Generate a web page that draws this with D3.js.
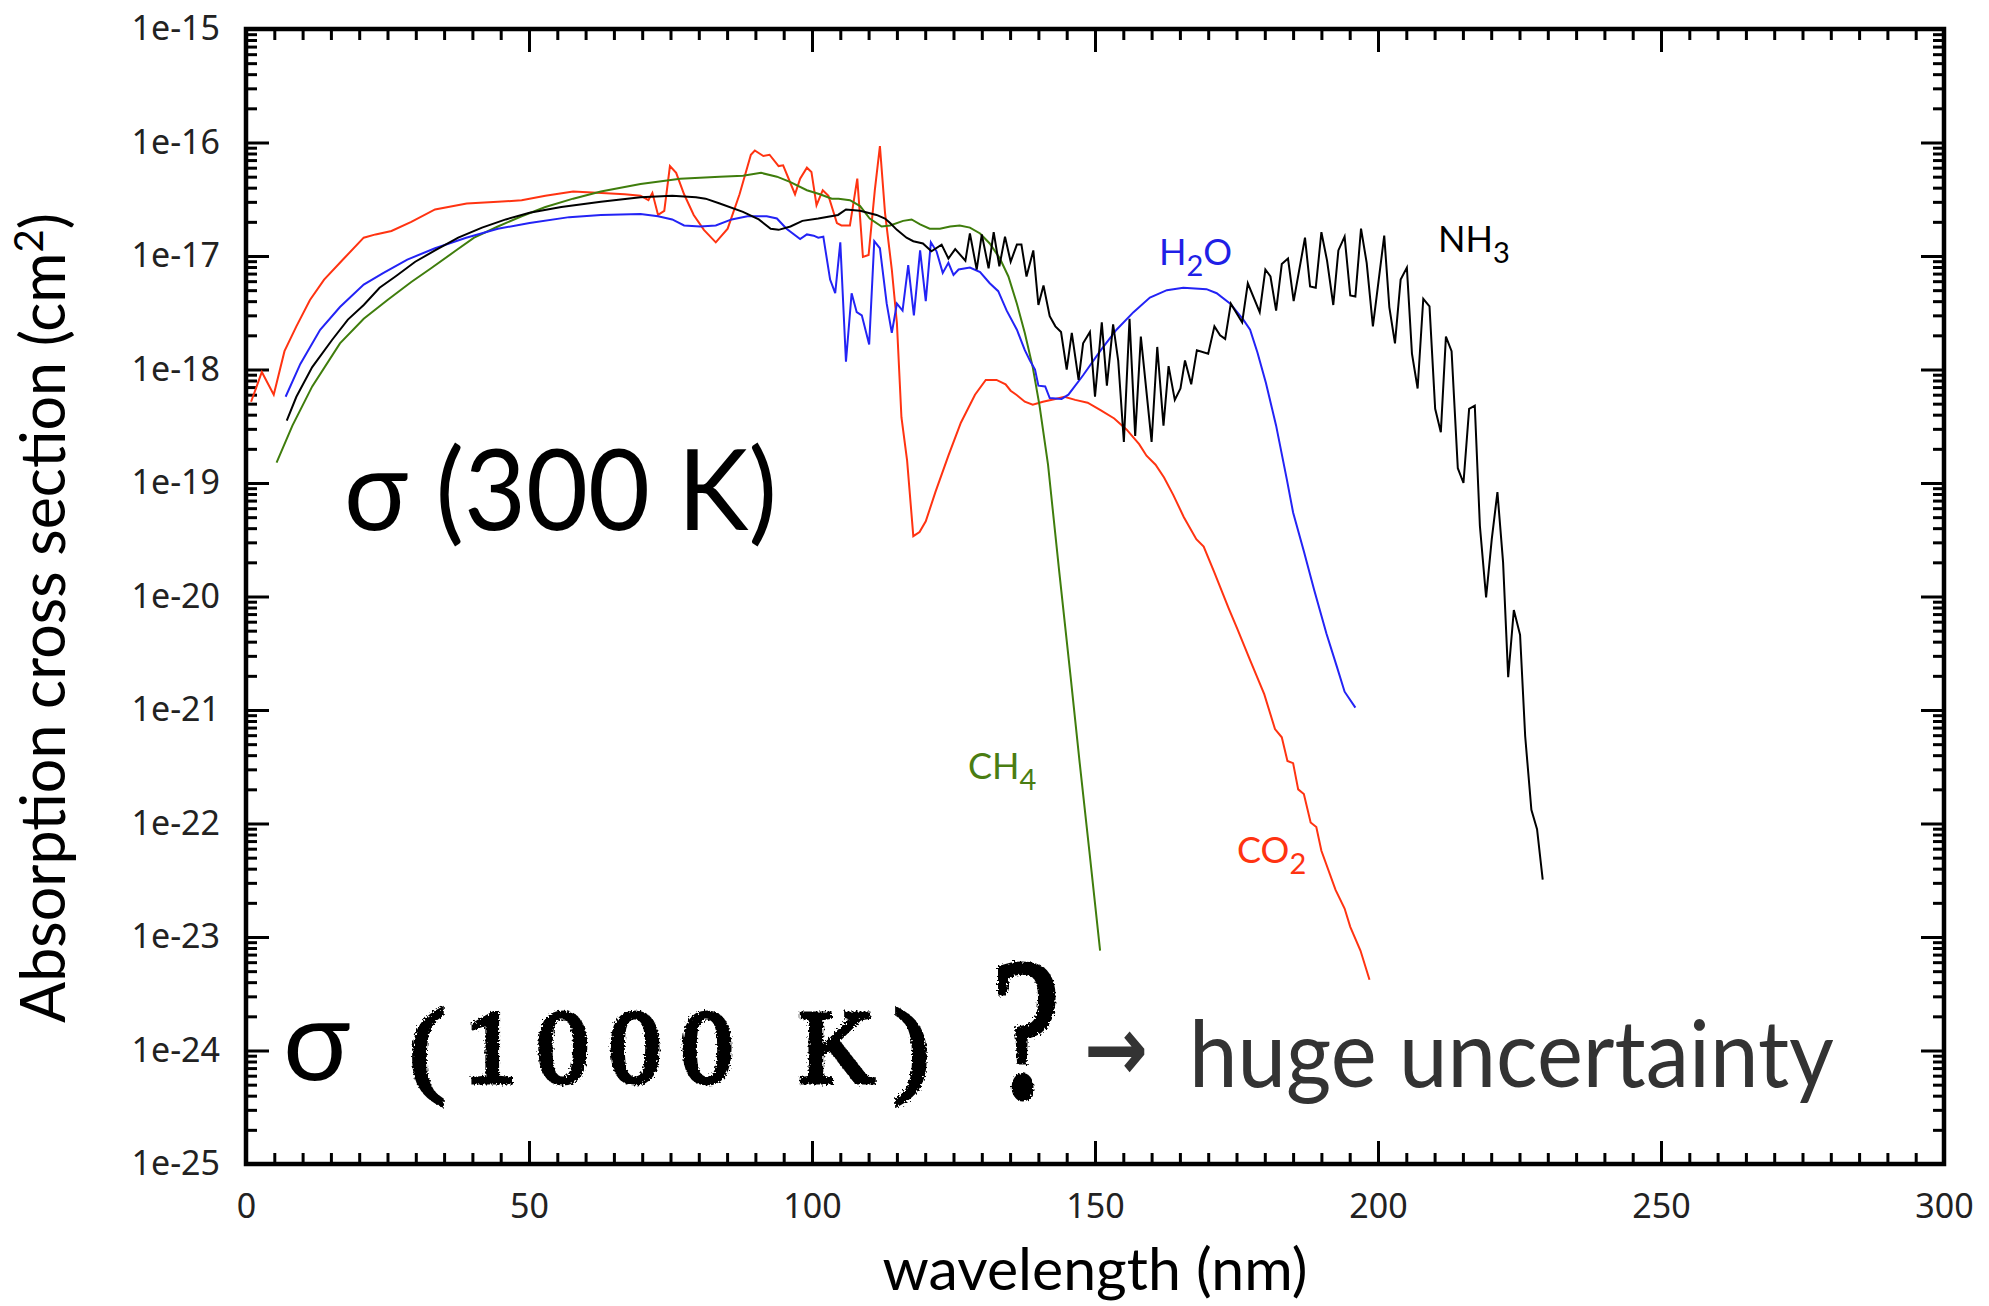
<!DOCTYPE html>
<html>
<head>
<meta charset="utf-8">
<script src="https://cdn.jsdelivr.net/npm/d3@7"></script>
<style>
  body { margin: 0; background: #fff; }
  svg { display: block; }
</style>
</head>
<body>
<div id="chart"></div>
<script>
// [wavelength (nm), cross section (cm^2)]
const co2 = [[0.9,5.2e-19],[2.8,9.5e-19],[4.9,6.0e-19],[6.8,1.45e-18],[8.9,2.4e-18],[11.3,4.1e-18],[13.8,6.2e-18],[17.3,9.5e-18],[20.8,1.45e-17],[22.9,1.55e-17],[25.7,1.66e-17],[29.2,2.0e-17],[33.4,2.57e-17],[39.0,2.9e-17],[44.5,3.0e-17],[48.7,3.1e-17],[52.9,3.4e-17],[57.8,3.7e-17],[62.0,3.6e-17],[66.9,3.5e-17],[69.7,3.4e-17],[71.1,3.1e-17],[71.8,3.6e-17],[72.8,2.3e-17],[73.9,2.5e-17],[74.9,6.2e-17],[76.0,5.4e-17],[77.4,3.5e-17],[79.1,2.3e-17],[80.9,1.7e-17],[83.0,1.32e-17],[85.1,1.74e-17],[87.2,3.5e-17],[89.2,7.8e-17],[89.9,8.5e-17],[91.4,7.6e-17],[92.5,7.8e-17],[94.1,6.2e-17],[94.9,6.3e-17],[97.0,3.5e-17],[97.9,4.8e-17],[99.1,6.0e-17],[99.9,5.5e-17],[100.8,2.8e-17],[101.9,3.8e-17],[102.9,3.4e-17],[104.4,1.95e-17],[105.2,1.86e-17],[106.7,1.86e-17],[108.0,4.8e-17],[109.0,9.8e-18],[110.0,1.02e-17],[111.1,3.8e-17],[112.0,9.3e-17],[112.9,2.4e-17],[114.1,7.6e-18],[115.0,2.57e-18],[115.8,3.8e-19],[116.8,1.58e-19],[117.9,3.4e-20],[119.0,3.7e-20],[120.1,4.6e-20],[121.8,8.3e-20],[124.1,1.74e-19],[126.3,3.4e-19],[128.8,6.0e-19],[130.7,8.1e-19],[132.6,8.1e-19],[134.2,7.4e-19],[135.1,6.5e-19],[136.1,6.0e-19],[137.6,5.2e-19],[139.0,4.9e-19],[140.8,5.2e-19],[143.0,5.5e-19],[144.6,5.75e-19],[146.5,5.4e-19],[148.7,5.1e-19],[150.9,4.4e-19],[153.4,3.7e-19],[155.6,2.95e-19],[157.8,2.2e-19],[159.1,1.74e-19],[160.7,1.45e-19],[162.2,1.12e-19],[163.8,7.9e-20],[165.7,5.0e-20],[167.9,3.2e-20],[169.2,2.75e-20],[171.1,1.62e-20],[173.6,7.9e-21],[175.2,5.1e-21],[177.4,2.75e-21],[179.9,1.38e-21],[181.8,6.8e-22],[183.0,5.75e-22],[184.0,3.55e-22],[185.0,3.4e-22],[185.9,2.0e-22],[186.9,1.82e-22],[188.1,1.02e-22],[189.1,9.3e-23],[190.0,5.75e-23],[192.5,2.6e-23],[194.1,1.78e-23],[195.1,1.23e-23],[196.9,7.6e-24],[198.5,4.2e-24]];

const h2o = [[7.0,5.75e-19],[9.6,1.12e-18],[13.1,2.24e-18],[16.6,3.55e-18],[20.8,5.6e-18],[24.3,7.1e-18],[28.5,9.3e-18],[33.4,1.17e-17],[38.9,1.45e-17],[44.5,1.74e-17],[50.1,1.95e-17],[57.1,2.2e-17],[62.7,2.3e-17],[69.7,2.35e-17],[72.8,2.24e-17],[75.3,2.1e-17],[77.4,1.86e-17],[80.2,1.82e-17],[83.0,1.86e-17],[85.8,2.1e-17],[88.6,2.24e-17],[92.0,2.24e-17],[93.8,2.14e-17],[95.5,1.74e-17],[97.9,1.41e-17],[99.1,1.55e-17],[100.3,1.51e-17],[101.1,1.45e-17],[102.0,1.48e-17],[103.2,6.2e-18],[104.1,4.7e-18],[105.0,1.32e-17],[106.0,1.17e-18],[107.0,4.7e-18],[107.9,3.2e-18],[108.8,3.0e-18],[110.1,1.66e-18],[111.0,1.35e-17],[112.0,1.17e-17],[113.2,3.8e-18],[114.1,2.1e-18],[115.0,3.8e-18],[116.0,3.3e-18],[117.0,8.3e-18],[118.0,3.0e-18],[119.1,1.12e-17],[120.1,4.0e-18],[121.0,1.32e-17],[122.0,1.1e-17],[123.1,7.1e-18],[124.1,8.7e-18],[125.0,6.8e-18],[125.9,7.6e-18],[127.9,7.9e-18],[129.7,7.2e-18],[131.4,5.75e-18],[132.9,4.9e-18],[134.4,3.3e-18],[136.2,2.24e-18],[137.6,1.48e-18],[138.5,1.2e-18],[139.4,1.0e-18],[140.0,7.2e-19],[141.2,7.1e-19],[142.0,5.6e-19],[144.1,5.5e-19],[145.3,6.0e-19],[147.9,8.9e-19],[150.9,1.45e-18],[153.8,2.24e-18],[156.8,3.2e-18],[159.7,4.3e-18],[162.7,5.0e-18],[165.6,5.25e-18],[169.7,5.1e-18],[171.5,4.7e-18],[173.9,3.8e-18],[176.2,2.75e-18],[177.4,2.24e-18],[178.7,1.41e-18],[180.2,7.6e-19],[182.0,3.2e-19],[183.9,1.07e-19],[185.0,5.5e-20],[186.9,2.5e-20],[188.7,1.15e-20],[190.9,4.7e-21],[192.8,2.35e-21],[194.1,1.45e-21],[196.0,1.05e-21]];

const ch4 = [[5.4,1.51e-19],[8.2,3.2e-19],[11.7,7.1e-19],[16.6,1.7e-18],[20.8,2.8e-18],[25.0,4.1e-18],[29.2,5.9e-18],[32.7,7.8e-18],[36.9,1.1e-17],[40.3,1.45e-17],[44.5,1.82e-17],[48.7,2.24e-17],[52.9,2.7e-17],[57.8,3.2e-17],[62.7,3.7e-17],[69.7,4.3e-17],[76.7,4.8e-17],[83.7,5.0e-17],[87.8,5.1e-17],[91.0,5.4e-17],[93.8,5.0e-17],[96.1,4.5e-17],[99.1,3.8e-17],[101.4,3.5e-17],[103.5,3.2e-17],[104.7,3.2e-17],[106.7,3.1e-17],[108.5,2.75e-17],[110.2,2.14e-17],[112.3,1.82e-17],[113.8,1.86e-17],[116.1,2.04e-17],[117.6,2.1e-17],[119.1,1.9e-17],[120.8,1.74e-17],[122.6,1.74e-17],[124.4,1.82e-17],[126.1,1.86e-17],[127.9,1.78e-17],[129.7,1.58e-17],[131.4,1.29e-17],[133.2,9.5e-18],[134.7,6.6e-18],[136.2,3.8e-18],[137.6,2.1e-18],[139.0,1.05e-18],[140.2,4.8e-19],[141.7,1.45e-19],[143.7,1.62e-20],[145.7,1.95e-21],[147.3,3.4e-22],[149.0,5.75e-23],[150.9,7.6e-24]];

const nh3 = [[7.2,3.55e-19],[8.9,5.75e-19],[11.7,1.05e-18],[15.2,1.82e-18],[18.0,2.75e-18],[20.8,3.7e-18],[23.6,5.25e-18],[26.4,6.6e-18],[29.9,8.9e-18],[33.4,1.12e-17],[37.5,1.45e-17],[41.7,1.78e-17],[45.9,2.1e-17],[50.1,2.4e-17],[55.7,2.7e-17],[62.7,3.0e-17],[69.7,3.3e-17],[75.3,3.4e-17],[79.5,3.3e-17],[81.2,3.2e-17],[83.7,2.9e-17],[87.8,2.45e-17],[90.6,2.1e-17],[92.7,1.74e-17],[94.1,1.7e-17],[96.2,1.82e-17],[98.3,2.04e-17],[101.1,2.14e-17],[104.6,2.3e-17],[106.0,2.57e-17],[108.5,2.5e-17],[111.4,2.3e-17],[112.9,2.14e-17],[113.8,1.95e-17],[115.0,1.7e-17],[116.7,1.45e-17],[117.9,1.35e-17],[119.6,1.29e-17],[121.1,1.1e-17],[122.9,1.26e-17],[124.1,9.5e-18],[125.3,1.15e-17],[127.1,9.1e-18],[127.9,1.58e-17],[129.1,7.6e-18],[130.0,1.55e-17],[131.2,7.8e-18],[132.1,1.62e-17],[133.1,8.1e-18],[134.1,1.48e-17],[135.1,8.9e-18],[136.2,1.26e-17],[137.0,1.26e-17],[137.9,6.6e-18],[139.1,1.12e-17],[140.0,3.7e-18],[140.9,5.5e-18],[142.0,2.95e-18],[143.0,2.4e-18],[144.0,2.14e-18],[145.0,1.0e-18],[145.9,2.1e-18],[147.1,8.1e-19],[147.9,1.7e-18],[149.1,2.14e-18],[150.0,5.75e-19],[151.2,2.6e-18],[152.1,7.2e-19],[153.2,2.5e-18],[154.1,1.2e-18],[155.1,2.3e-19],[156.1,2.8e-18],[157.1,2.6e-19],[158.1,1.95e-18],[160.0,2.3e-19],[161.0,1.58e-18],[162.1,3.2e-19],[163.0,1.07e-18],[164.1,5.4e-19],[165.1,6.8e-19],[165.9,1.2e-18],[167.0,7.4e-19],[168.0,1.48e-18],[170.0,1.38e-18],[171.1,2.4e-18],[172.1,2.0e-18],[173.0,1.86e-18],[174.0,3.8e-18],[176.0,2.6e-18],[177.0,5.75e-18],[179.1,3.2e-18],[180.1,7.6e-18],[181.0,6.6e-18],[182.0,3.3e-18],[183.0,8.5e-18],[184.1,9.5e-18],[185.1,4.0e-18],[187.1,1.45e-17],[188.0,5.4e-18],[189.0,5.25e-18],[190.0,1.62e-17],[191.0,9.1e-18],[192.1,3.7e-18],[193.0,1.12e-17],[194.1,1.48e-17],[195.1,4.5e-18],[196.0,4.4e-18],[197.0,1.74e-17],[198.0,8.7e-18],[199.1,2.4e-18],[201.1,1.51e-17],[202.0,3.55e-18],[203.0,1.7e-18],[204.0,6.2e-18],[205.1,7.9e-18],[206.0,1.38e-18],[207.0,6.8e-19],[208.0,4.2e-18],[209.1,3.6e-18],[210.1,4.5e-19],[211.1,2.8e-19],[212.0,1.95e-18],[213.0,1.45e-18],[214.1,1.35e-19],[215.1,1.0e-19],[216.1,4.5e-19],[217.1,4.8e-19],[218.0,4.2e-20],[219.1,9.8e-21],[220.1,3.2e-20],[221.1,8.3e-20],[222.1,2.0e-20],[223.0,1.95e-21],[224.0,7.6e-21],[225.1,4.6e-21],[226.0,5.9e-22],[227.1,1.32e-22],[228.1,8.9e-23],[229.1,3.2e-23]];

const xMajor = [0, 50, 100, 150, 200, 250, 300];
const yExponents = [-25, -24, -23, -22, -21, -20, -19, -18, -17, -16, -15];

const width = 1989, height = 1306;
const plot = {left: 246, right: 1944, top: 29, bottom: 1164};

const x = d3.scaleLinear().domain([0, 300]).range([plot.left, plot.right]);
const y = d3.scaleLog().domain([1e-25, 1e-15]).range([plot.bottom, plot.top]);

const svg = d3.select('#chart').append('svg')
    .attr('width', width)
    .attr('height', height);

svg.append('rect').attr('width', width).attr('height', height).attr('fill', '#fff');

// rough look for the hand-stamped text
const filter = svg.append('defs').append('filter').attr('id', 'rough');
filter.append('feTurbulence').attr('type', 'fractalNoise')
    .attr('baseFrequency', 0.5).attr('numOctaves', 2).attr('result', 'noise');
filter.append('feDisplacementMap').attr('in', 'SourceGraphic').attr('in2', 'noise')
    .attr('scale', 7);

// tick values
const yMajor = yExponents.map(e => +('1e' + e));
let yMinor = [];
yExponents.slice(0, -1).forEach(e => {
    for (let k = 2; k <= 9; k++) yMinor.push(+(k + 'e' + e));
});
const xMinor = d3.range(0, 301, 5).filter(v => v % 50 !== 0);

const labelFont = '"Noto Sans", "Open Sans", sans-serif';
const bigFont = 'Lato, "Noto Sans", sans-serif';
const stampFont = '"Liberation Serif", "DejaVu Serif", serif';

function drawTicks(axis, pos, withLabels) {
    let g = svg.append('g').attr('transform', pos).call(axis);
    g.select('.domain').remove();
    g.selectAll('.tick line').attr('stroke', '#000').attr('stroke-width', 3);
    g.selectAll('.tick text')
        .attr('fill', '#222')
        .style('font-family', labelFont)
        .style('font-size', '34px');
    if (!withLabels) g.selectAll('.tick text').remove();
    return g;
}

const fmtY = d => '1e' + Math.round(Math.log10(d));

// bottom / top
drawTicks(d3.axisBottom(x).tickValues(xMajor).tickSize(-23).tickPadding(30), `translate(0,${plot.bottom})`, true);
drawTicks(d3.axisBottom(x).tickValues(xMinor).tickSize(-11), `translate(0,${plot.bottom})`, false);
drawTicks(d3.axisTop(x).tickValues(xMajor).tickSize(-23), `translate(0,${plot.top})`, false);
drawTicks(d3.axisTop(x).tickValues(xMinor).tickSize(-11), `translate(0,${plot.top})`, false);

// left / right
drawTicks(d3.axisLeft(y).tickValues(yMajor).tickFormat(fmtY).tickSize(-23).tickPadding(26), `translate(${plot.left},0)`, true);
drawTicks(d3.axisLeft(y).tickValues(yMinor).tickSize(-11), `translate(${plot.left},0)`, false);
drawTicks(d3.axisRight(y).tickValues(yMajor).tickSize(-23), `translate(${plot.right},0)`, false);
drawTicks(d3.axisRight(y).tickValues(yMinor).tickSize(-11), `translate(${plot.right},0)`, false);

// curves
const line = d3.line().x(d => x(d[0])).y(d => y(d[1]));
const series = [
    {data: co2, color: '#ff3311'},
    {data: ch4, color: '#3f7d0c'},
    {data: h2o, color: '#2323f5'},
    {data: nh3, color: '#000000'}
];
svg.append('g').selectAll('path')
    .data(series)
    .enter()
    .append('path')
    .attr('d', d => line(d.data))
    .attr('fill', 'none')
    .attr('stroke', d => d.color)
    .attr('stroke-width', 2)
    .attr('stroke-linejoin', 'miter');

// frame
svg.append('rect')
    .attr('x', plot.left).attr('y', plot.top)
    .attr('width', plot.right - plot.left)
    .attr('height', plot.bottom - plot.top)
    .attr('fill', 'none')
    .attr('stroke', '#000')
    .attr('stroke-width', 4.5);

// curve labels
function molecule(txt, sub, tail, px, py, color) {
    let t = svg.append('text')
        .attr('x', px).attr('y', py)
        .attr('fill', color)
        .style('font-family', bigFont)
        .style('font-size', '36px');
    t.append('tspan').text(txt);
    t.append('tspan').attr('dy', 11).style('font-size', '29px').text(sub);
    if (tail) t.append('tspan').attr('dy', -11).text(tail);
}
molecule('H', '2', 'O', 1159, 265, '#1f1fe6');
molecule('NH', '3', '', 1438, 252, '#000');
molecule('CH', '4', '', 968, 779, '#4a7d12');
molecule('CO', '2', '', 1237, 863, '#ff3311');

// axis titles
svg.append('text')
    .attr('x', x(150))
    .attr('y', 1290)
    .attr('text-anchor', 'middle')
    .attr('fill', '#000')
    .style('font-family', bigFont)
    .style('font-size', '59px')
    .text('wavelength (nm)');

const yTitle = svg.append('text')
    .attr('transform', 'translate(65,618) rotate(-90)')
    .attr('text-anchor', 'middle')
    .attr('fill', '#000')
    .style('font-family', bigFont)
    .style('font-size', '61px');
yTitle.append('tspan').text('Absorption cross section (cm');
yTitle.append('tspan').attr('dy', -22).style('font-size', '40px').text('2');
yTitle.append('tspan').attr('dy', 22).text(')');

// annotations
svg.append('text')
    .attr('x', 344).attr('y', 530)
    .attr('textLength', 433)
    .attr('lengthAdjust', 'spacingAndGlyphs')
    .attr('fill', '#000')
    .style('font-family', bigFont)
    .style('font-size', '112px')
    .text('σ (300 K)');

svg.append('text')
    .attr('x', 283).attr('y', 1080)
    .attr('fill', '#000')
    .style('font-family', bigFont)
    .style('font-size', '112px')
    .text('σ');

svg.append('text')
    .attr('x', 410).attr('y', 1082)
    .attr('textLength', 519)
    .attr('lengthAdjust', 'spacing')
    .attr('fill', '#000')
    .attr('stroke', '#000')
    .attr('stroke-width', 5)
    .attr('filter', 'url(#rough)')
    .style('font-family', stampFont)
    .style('font-size', '104px')
    .text('(1000 K)');

svg.append('text')
    .attr('x', 992).attr('y', 1096)
    .attr('textLength', 68)
    .attr('lengthAdjust', 'spacingAndGlyphs')
    .attr('fill', '#000')
    .attr('stroke', '#000')
    .attr('stroke-width', 5)
    .attr('filter', 'url(#rough)')
    .style('font-family', stampFont)
    .style('font-size', '200px')
    .text('?');

svg.append('text')
    .attr('x', 1084).attr('y', 1080)
    .attr('textLength', 64)
    .attr('lengthAdjust', 'spacingAndGlyphs')
    .attr('fill', '#333')
    .style('font-family', '"DejaVu Sans", sans-serif')
    .style('font-weight', 'bold')
    .style('font-size', '90px')
    .text('→');

svg.append('text')
    .attr('x', 1189).attr('y', 1087)
    .attr('textLength', 645)
    .attr('lengthAdjust', 'spacingAndGlyphs')
    .attr('fill', '#333')
    .style('font-family', bigFont)
    .style('font-size', '94px')
    .text('huge uncertainty');
</script>
</body>
</html>
